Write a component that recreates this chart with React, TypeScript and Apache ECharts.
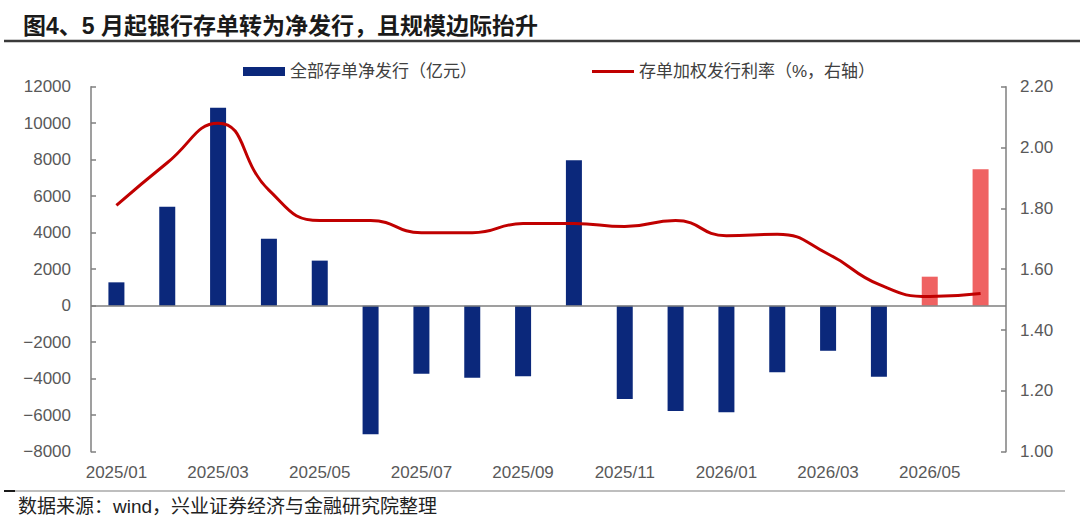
import React, { useEffect, useRef } from "react";
import * as echarts from "echarts";

// Months on the category axis
const months = [
  "2025/01", "2025/02", "2025/03", "2025/04", "2025/05", "2025/06",
  "2025/07", "2025/08", "2025/09", "2025/10", "2025/11", "2025/12",
  "2026/01", "2026/02", "2026/03", "2026/04", "2026/05", "2026/06",
];

// 全部存单净发行（亿元）
const netIssuance = [
  1280, 5420, 10850, 3670, 2470, -7050,
  -3730, -3950, -3870, 7970, -5110, -5770,
  -5840, -3650, -2470, -3890, 1590, 7470,
];

// 存单加权发行利率（%）
const issueRate = [
  1.81, 1.95, 2.08, 1.86, 1.76, 1.76,
  1.72, 1.72, 1.75, 1.75, 1.74, 1.76,
  1.71, 1.715, 1.65, 1.55, 1.51, 1.52,
];

// Months whose bars are highlighted
const highlightMonths = ["2026/05", "2026/06"];

const leftTicks = { min: -8000, max: 12000, interval: 2000 };
const rightTicks = { min: 1.0, max: 2.2, interval: 0.2 };

const BAR_NAME = "全部存单净发行（亿元）";
const LINE_NAME = "存单加权发行利率（%，右轴）";

const FONT = "'Liberation Sans', Arial, 'Noto Sans CJK SC', sans-serif";
const NAVY = "#0B287B";
const PINK = "#EF6262";
const RED = "#C00000";
const AXIS = "#7F7F7F";
const LABEL = "#595959";

export default function App() {
  const ref = useRef<HTMLDivElement>(null);

  useEffect(() => {
    if (!ref.current) return;
    const chart = echarts.init(ref.current, undefined, { renderer: "svg" });

    const barData = netIssuance.map((v, i) => ({
      value: v,
      itemStyle: { color: highlightMonths.includes(months[i]) ? PINK : NAVY },
    }));

    const legendText = { fontFamily: FONT, fontSize: 17, color: "#404040" };

    chart.setOption({
      animation: false,
      backgroundColor: "#ffffff",
      textStyle: { fontFamily: FONT },
      title: {
        text: "图4、5 月起银行存单转为净发行，且规模边际抬升",
        left: 18,
        top: 9,
        textStyle: { fontFamily: FONT, fontSize: 23, fontWeight: "bold", color: "#1a1a1a" },
      },
      legend: [
        {
          left: 238,
          top: 58,
          itemWidth: 42,
          itemHeight: 9,
          textStyle: legendText,
          data: [{ name: BAR_NAME, icon: "rect", itemStyle: { color: NAVY } }],
        },
        {
          left: 587,
          top: 58,
          itemWidth: 42,
          itemHeight: 3,
          textStyle: legendText,
          data: [{ name: LINE_NAME, icon: "rect", itemStyle: { color: RED } }],
        },
      ],
      grid: { left: 91, right: 74, top: 86.7, bottom: 72.3, containLabel: false },
      xAxis: {
        type: "category",
        data: months,
        axisLine: { show: false, onZero: false },
        axisTick: { show: false },
        axisLabel: {
          interval: 1,
          margin: 12,
          fontSize: 17,
          color: LABEL,
          fontFamily: FONT,
        },
      },
      yAxis: [
        {
          type: "value",
          min: leftTicks.min,
          max: leftTicks.max,
          interval: leftTicks.interval,
          axisLine: { show: true, lineStyle: { color: AXIS, width: 1.5 } },
          axisTick: { show: true, inside: true, length: 5, lineStyle: { color: AXIS, width: 1.5 } },
          splitLine: { show: false },
          axisLabel: {
            fontSize: 17,
            color: LABEL,
            margin: 20,
            fontFamily: FONT,
            formatter: (v: number) => (v < 0 ? "\u2212" + Math.abs(v) : String(v)),
          },
        },
        {
          type: "value",
          position: "right",
          min: rightTicks.min,
          max: rightTicks.max,
          interval: rightTicks.interval,
          axisLine: { show: true, lineStyle: { color: AXIS, width: 1.5 } },
          axisTick: { show: true, inside: true, length: 5, lineStyle: { color: AXIS, width: 1.5 } },
          splitLine: { show: false },
          axisLabel: {
            fontSize: 17,
            color: LABEL,
            margin: 14,
            fontFamily: FONT,
            formatter: (v: number) => v.toFixed(2),
          },
        },
      ],
      series: [
        {
          name: BAR_NAME,
          type: "bar",
          yAxisIndex: 0,
          barWidth: 16,
          data: barData,
          itemStyle: { color: NAVY },
          markLine: {
            silent: true,
            symbol: "none",
            label: { show: false },
            lineStyle: { color: AXIS, width: 1.5, type: "solid" },
            data: [{ yAxis: 0 }],
          },
        },
        {
          name: LINE_NAME,
          type: "line",
          yAxisIndex: 1,
          data: issueRate,
          smooth: 0.5,
          symbol: "none",
          lineStyle: { color: RED, width: 3 },
          itemStyle: { color: RED },
          z: 5,
        },
      ],
      graphic: [
        {
          type: "line",
          shape: { x1: 4, y1: 41, x2: 1080, y2: 41 },
          style: { stroke: "#3a3a3a", lineWidth: 2.5 },
        },
        {
          type: "line",
          shape: { x1: 4, y1: 491, x2: 1065, y2: 491 },
          style: { stroke: AXIS, lineWidth: 1.2 },
        },
        {
          type: "line",
          shape: { x1: 4, y1: 491, x2: 15, y2: 491 },
          style: { stroke: "#1a1a1a", lineWidth: 2 },
        },
        {
          type: "text",
          x: 18,
          y: 506,
          style: {
            text: "数据来源：wind，兴业证券经济与金融研究院整理",
            fontFamily: FONT,
            fontSize: 19,
            fill: "#222222",
            verticalAlign: "middle",
          },
        },
      ],
    });

    return () => chart.dispose();
  }, []);

  return (
    <div
      ref={ref}
      style={{ position: "fixed", left: 0, top: 0, width: 1080, height: 524 }}
    />
  );
}
